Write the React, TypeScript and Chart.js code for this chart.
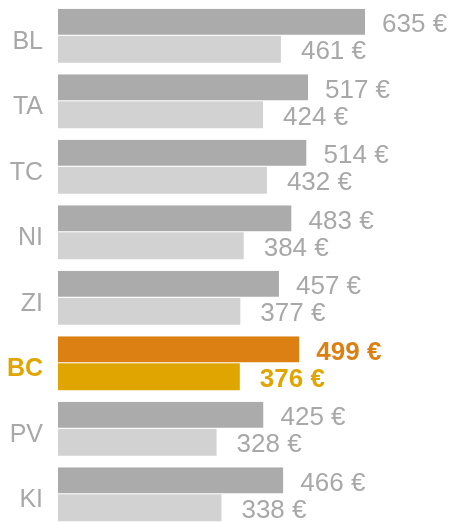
import React, { useEffect, useRef } from "react";
import { Chart, registerables } from "chart.js";

Chart.register(...registerables);

const categories = ["BL", "TA", "TC", "NI", "ZI", "BC", "PV", "KI"];
const seriesA = [635, 517, 514, 483, 457, 499, 425, 466];
const seriesB = [461, 424, 432, 384, 377, 376, 328, 338];
const highlight = "BC";

const GREY_DARK = "#ababab";
const GREY_LIGHT = "#d2d2d2";
const GREY_TEXT = "#a8a8a8";
const ORANGE = "#dc8014";
const GOLD = "#e0a500";
const FONT = "'Liberation Sans', Arial, sans-serif";

const colorsA = categories.map((c) => (c === highlight ? ORANGE : GREY_DARK));
const colorsB = categories.map((c) => (c === highlight ? GOLD : GREY_LIGHT));

const valueLabels = {
  id: "valueLabels",
  afterDatasetsDraw(chart: any) {
    const ctx = chart.ctx;
    const offsets = [17, 20];
    chart.data.datasets.forEach((ds: any, di: number) => {
      const meta = chart.getDatasetMeta(di);
      meta.data.forEach((bar: any, i: number) => {
        const isHi = categories[i] === highlight;
        ctx.save();
        ctx.font = `${isHi ? "bold " : ""}26px ${FONT}`;
        ctx.fillStyle = isHi ? (di === 0 ? ORANGE : GOLD) : GREY_TEXT;
        ctx.textAlign = "left";
        ctx.textBaseline = "middle";
        ctx.fillText(`${ds.data[i]} €`, bar.x + offsets[di], bar.y + 3);
        ctx.restore();
      });
    });
  },
};

export default function App() {
  const ref = useRef<HTMLCanvasElement>(null);
  useEffect(() => {
    const chart = new Chart(ref.current!, {
      type: "bar",
      data: {
        labels: categories,
        datasets: [
          {
            data: seriesA,
            backgroundColor: colorsA,
            borderColor: "#ffffff",
            borderWidth: { top: 0, left: 0, right: 0, bottom: 1 },
            borderSkipped: false,
            categoryPercentage: 0.824,
            barPercentage: 1,
          },
          {
            data: seriesB,
            backgroundColor: colorsB,
            borderWidth: 0,
            categoryPercentage: 0.824,
            barPercentage: 1,
          },
        ],
      },
      options: {
        indexAxis: "y",
        responsive: false,
        animation: false,
        devicePixelRatio: 1,
        layout: { padding: { top: 3, bottom: 3, left: 0, right: 0 } },
        plugins: {
          legend: { display: false },
          tooltip: { enabled: false },
        },
        scales: {
          x: { display: false, min: 0, max: 821 },
          y: {
            grid: { display: false, drawTicks: false },
            border: { display: false },
            afterFit: (scale: any) => {
              scale.width = 58;
              scale.paddingTop = 0;
              scale.paddingBottom = 0;
            },
            ticks: {
              padding: 15,
              labelOffset: 6,
              color: (c: any) => (categories[c.index] === highlight ? GOLD : GREY_TEXT),
              font: (c: any) => ({
                family: FONT,
                size: 25,
                weight: categories[c.index] === highlight ? "bold" : "normal",
              }),
            },
          },
        },
      },
      plugins: [valueLabels],
    });
    return () => chart.destroy();
  }, []);
  return (
    <div style={{ position: "fixed", left: 0, top: 0, width: 455, height: 522, overflow: "hidden", background: "#fff" }}>
      <canvas ref={ref} width={455} height={530} style={{ display: "block" }} />
    </div>
  );
}
